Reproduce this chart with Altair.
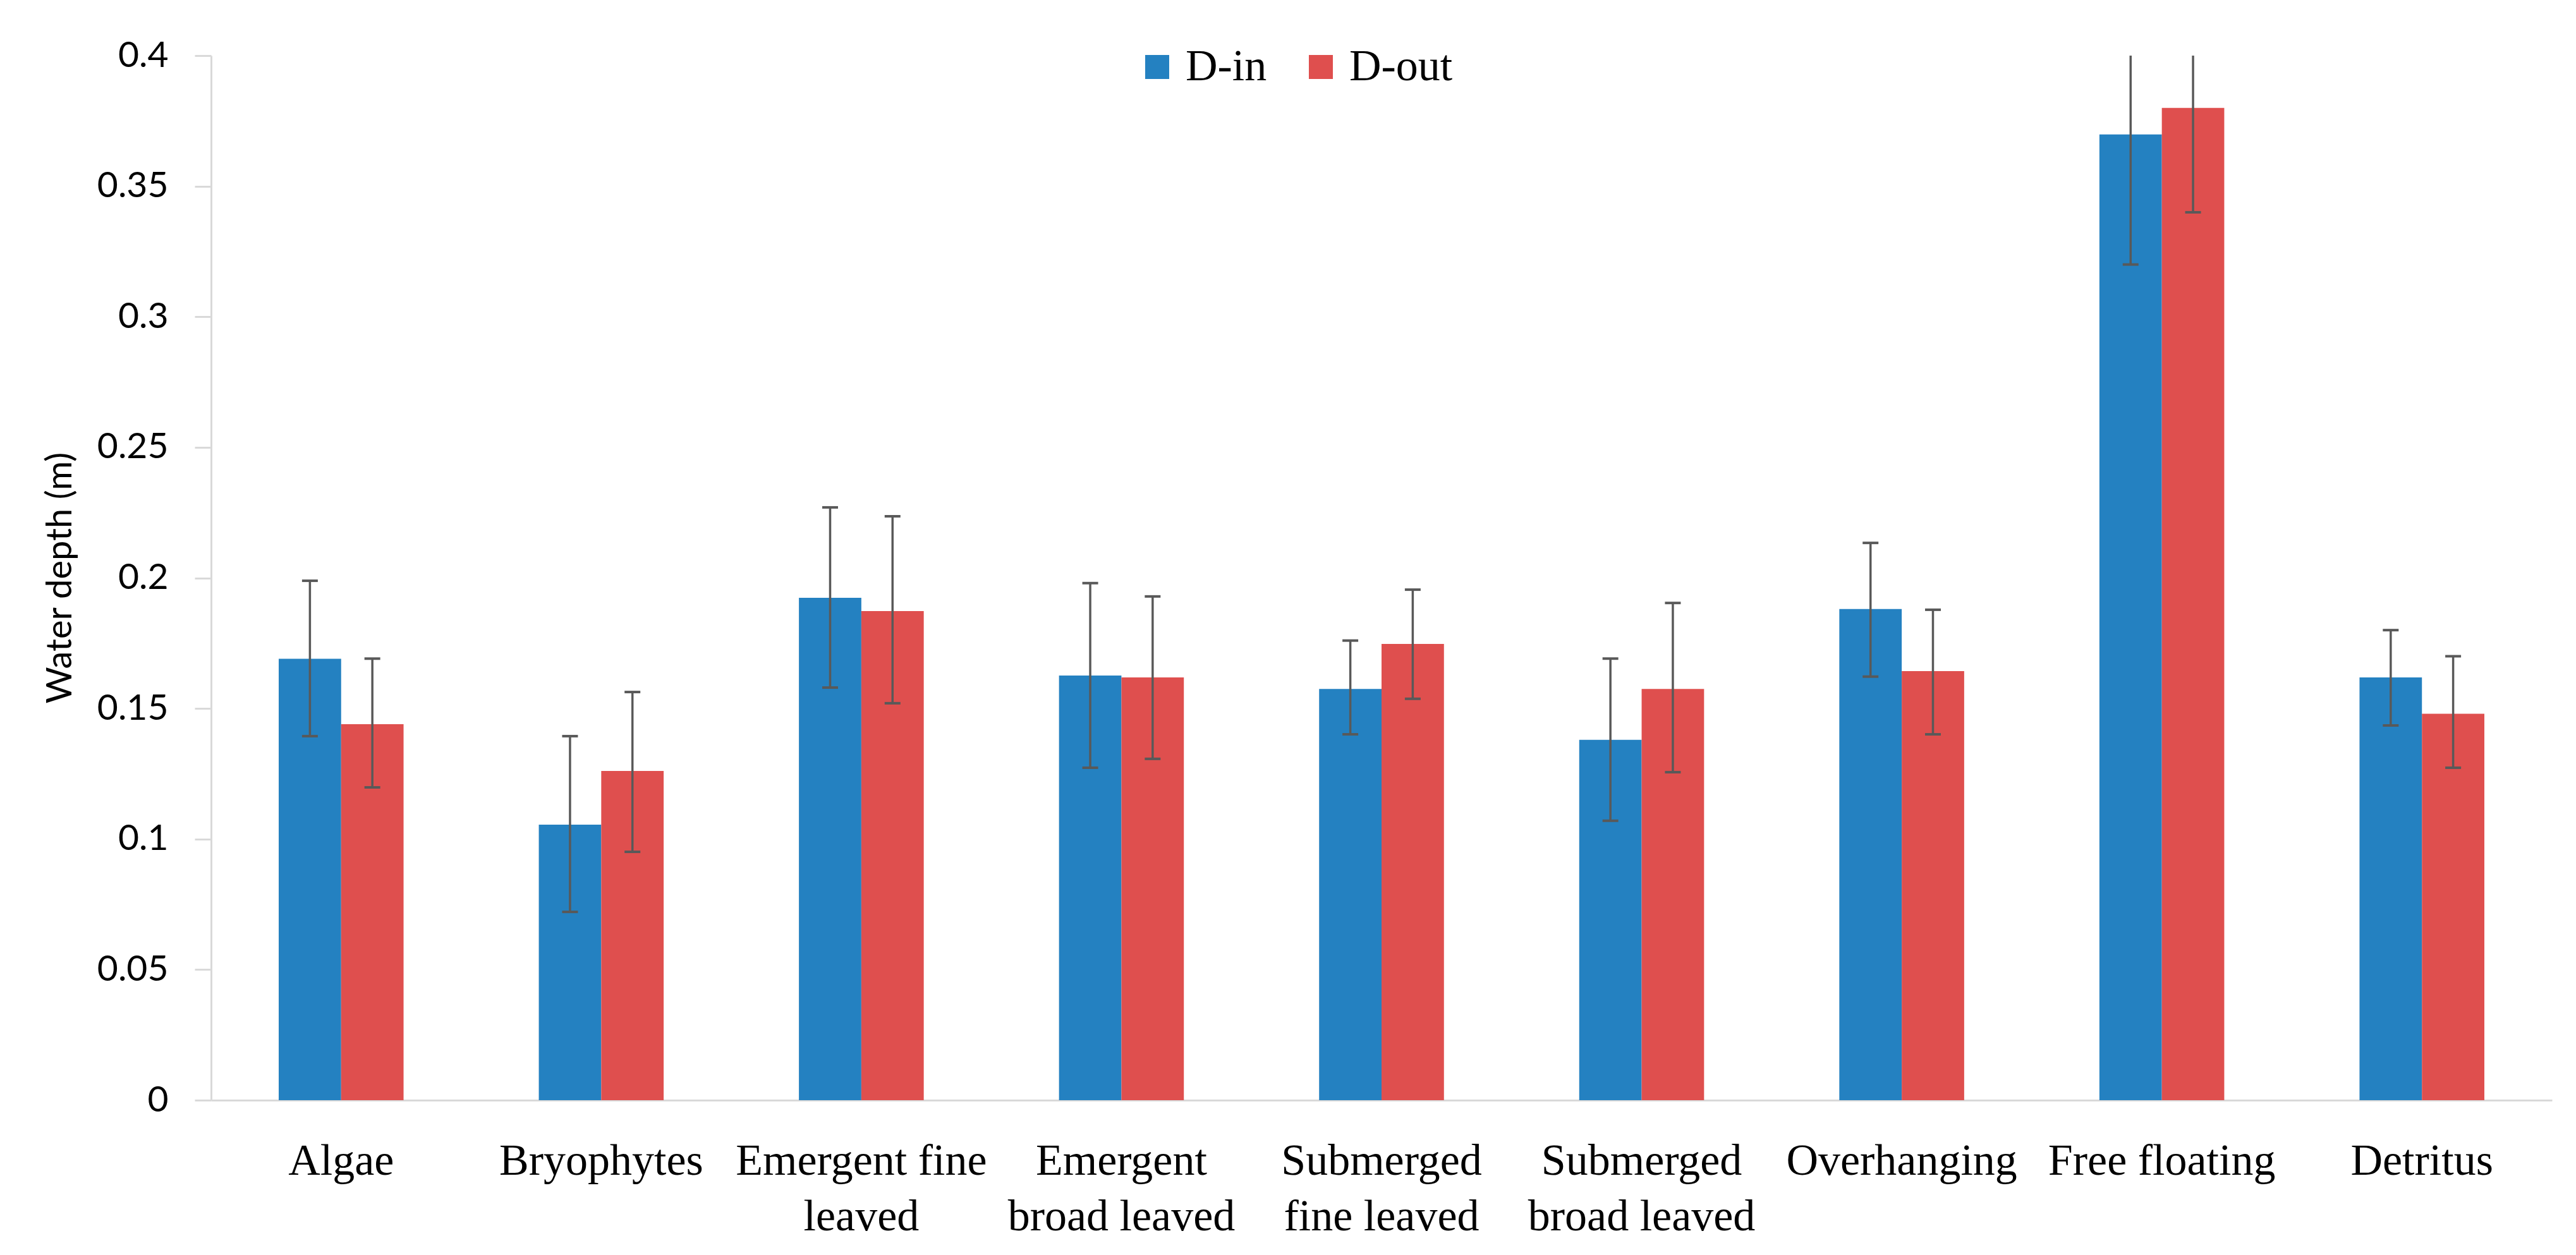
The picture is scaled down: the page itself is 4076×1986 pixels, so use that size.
import altair as alt
import pandas as pd

categories = ["Algae", "Bryophytes", "Emergent fine leaved", "Emergent broad leaved",
              "Submerged fine leaved", "Submerged broad leaved", "Overhanging",
              "Free floating", "Detritus"]
label_lines = [["Algae"], ["Bryophytes"], ["Emergent fine", "leaved"], ["Emergent", "broad leaved"],
               ["Submerged", "fine leaved"], ["Submerged", "broad leaved"], ["Overhanging"],
               ["Free floating"], ["Detritus"]]
series = ["D-in", "D-out"]
colors = ["#2481c1", "#df4f4e"]

d_in = [0.169, 0.1055, 0.1924, 0.1626, 0.1575, 0.138, 0.1881, 0.3698, 0.1619]
d_in_low = [0.1394, 0.0721, 0.158, 0.1273, 0.1401, 0.107, 0.1622, 0.320, 0.1435]
d_in_high = [0.1989, 0.1394, 0.227, 0.198, 0.176, 0.1691, 0.2134, 0.4196, 0.180]

d_out = [0.144, 0.1261, 0.1873, 0.1619, 0.1747, 0.1575, 0.1643, 0.380, 0.148]
d_out_low = [0.1198, 0.0951, 0.152, 0.1307, 0.1537, 0.1256, 0.1401, 0.340, 0.1273]
d_out_high = [0.1691, 0.1563, 0.2236, 0.1929, 0.1955, 0.1904, 0.1878, 0.420, 0.170]

y_ticks = [0, 0.05, 0.1, 0.15, 0.2, 0.25, 0.3, 0.35, 0.4]

rows = []
for i, c in enumerate(categories):
    rows.append({"category": c, "series": series[0], "value": d_in[i], "low": d_in_low[i], "high": d_in_high[i]})
    rows.append({"category": c, "series": series[1], "value": d_out[i], "low": d_out_low[i], "high": d_out_high[i]})
df = pd.DataFrame(rows)

# multi-line label expression
expr = "''"
for c, lines in reversed(list(zip(categories, label_lines))):
    arr = "[" + ",".join("'" + l + "'" for l in lines) + "]"
    expr = f"datum.label == '{c}' ? {arr} : ({expr})"

serif = "Liberation Serif"
sans = "Lato"

x_enc = alt.X("category:N", sort=categories,
              scale=alt.Scale(paddingInner=0.52, paddingOuter=0.26),
              axis=alt.Axis(title=None, labelAngle=0, ticks=False, labelExpr=expr,
                            labelFont=serif, labelFontSize=70, labelLineHeight=88,
                            labelPadding=62, labelColor="#000000", labelLimit=0,
                            domainColor="#d9d9d9", domainWidth=3))
xoff = alt.XOffset("series:N", sort=series)
y_scale = alt.Scale(domain=[0, 0.4], nice=False)

bars = alt.Chart(df).mark_bar().encode(
    x=x_enc,
    xOffset=xoff,
    y=alt.Y("value:Q", scale=y_scale,
            axis=alt.Axis(title="Water depth (m)", values=y_ticks, format="~g", grid=False,
                          labelFont=sans, labelFontSize=57, labelColor="#000000", labelPadding=42,
                          tickColor="#d9d9d9", tickWidth=3, tickSize=26,
                          domainColor="#d9d9d9", domainWidth=3,
                          titleFont=sans, titleFontSize=56, titleFontWeight="normal",
                          titleColor="#000000", titleX=-239, titleY=826, titleAngle=270,
                          titleAlign="center", titleBaseline="middle")),
    color=alt.Color("series:N", sort=series,
                    scale=alt.Scale(domain=series, range=colors),
                    legend=alt.Legend(title=None, orient="none", direction="horizontal",
                                      legendX=1462, legendY=-17, symbolType="square",
                                      symbolSize=1444, symbolStrokeWidth=0, symbolOpacity=1,
                                      labelFont=serif, labelFontSize=70, labelColor="#000000",
                                      labelLimit=0, labelOffset=10, columnPadding=50, padding=0)),
)

rules = alt.Chart(df).mark_rule(color="#595959", strokeWidth=3.5, clip=True).encode(
    x=alt.X("category:N", sort=categories),
    xOffset=xoff,
    y=alt.Y("low:Q", scale=y_scale),
    y2="high:Q",
)

caps_low = alt.Chart(df).mark_tick(color="#595959", thickness=4, size=25, clip=True, opacity=1).encode(
    x=alt.X("category:N", sort=categories),
    xOffset=xoff,
    y=alt.Y("low:Q", scale=y_scale),
)
caps_high = alt.Chart(df).mark_tick(color="#595959", thickness=4, size=25, clip=True, opacity=1).encode(
    x=alt.X("category:N", sort=categories),
    xOffset=xoff,
    y=alt.Y("high:Q", scale=y_scale),
)

chart = alt.layer(bars, rules, caps_low, caps_high).properties(
    width=3704, height=1653,
    autosize=alt.AutoSizeParams(type="none"),
    padding={"left": 326, "top": 80, "right": 30, "bottom": 237},
    background="#ffffff",
).configure_view(stroke=None)

chart.save("out.html", embed_options={"renderer": "svg", "actions": False})
